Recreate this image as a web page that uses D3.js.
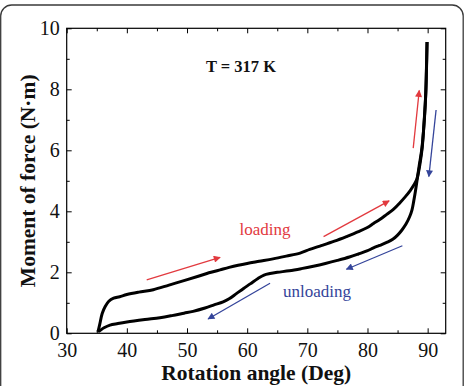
<!DOCTYPE html>
<html><head><meta charset="utf-8">
<script src="https://cdn.jsdelivr.net/npm/d3@7"></script>
<style>body{margin:0;background:#fff;}svg{display:block;}</style>
</head><body>
<svg id="c" width="465" height="386"></svg>
<script>
const loadX = [35.2,35.5,35.9,36.4,37.0,37.8,38.8,40.0,42.0,44.4,47.0,49.9,52.0,53.3,54.0,55.5,57.0,58.5,60.0,62.0,64.3,66.5,68.8,70.4,72.1,74.5,76.5,78.5,79.9,81.0,82.1,83.2,84.3,85.4,86.3,87.1,87.7,88.2,88.5,88.8,89.1,89.3,89.5,89.7,89.8,89.9];
const loadY = [0.05,0.3,0.65,0.88,1.05,1.15,1.2,1.27,1.35,1.43,1.58,1.75,1.88,1.96,2.0,2.08,2.16,2.23,2.29,2.36,2.44,2.53,2.63,2.75,2.86,3.02,3.17,3.33,3.46,3.6,3.74,3.9,4.06,4.28,4.48,4.68,4.86,5.05,5.3,5.65,6.1,6.6,7.2,7.9,8.7,9.55];
const unloadX = [89.9,89.8,89.6,89.3,89.0,88.6,88.3,88.0,87.7,87.4,87.0,86.4,85.7,85.0,84.2,83.2,82.0,81.0,79.9,78.5,77.0,75.0,73.0,71.0,69.0,67.0,65.0,63.8,62.8,61.8,60.5,59.4,58.2,57.0,56.0,54.5,53.0,51.0,49.5,47.5,45.5,43.0,40.0,38.5,37.2,36.2,35.6,35.2];
const unloadY = [9.55,8.6,7.5,6.6,6.0,5.5,5.1,4.7,4.35,4.05,3.82,3.58,3.38,3.22,3.08,2.98,2.88,2.8,2.7,2.6,2.5,2.39,2.29,2.2,2.12,2.05,2.0,1.96,1.91,1.8,1.62,1.47,1.3,1.13,1.03,0.93,0.83,0.72,0.66,0.58,0.51,0.45,0.37,0.32,0.27,0.18,0.1,0.05];
const xTicks = [30,40,50,60,70,80,90];
const xMinor = [35,45,55,65,75,85];
const yTicks = [0,2,4,6,8,10];
const yMinor = [1,3,5,7,9];
const loadArrows = [[43.3,1.75,55.5,2.49],[72.7,3.17,83.6,4.34],[87.6,6.07,88.6,7.96]];
const unloadArrows = [[91.4,7.32,90.2,5.14],[85.8,2.87,76.5,2.1],[63.8,1.64,53.5,0.47]];

const svg = d3.select("#c");
const L = 66.7, R = 445.7, T = 28.3, B = 333.3;
const x = d3.scaleLinear().domain([30,93]).range([L,R]);
const y = d3.scaleLinear().domain([0,10]).range([B,T]);
const serif = "'Liberation Serif','Times New Roman',serif";
const red = "#e23a3f", blue = "#34449a";

// outer rounded frame
svg.append("rect").attr("x",0.7).attr("y",5).attr("width",462.5).attr("height",420)
  .attr("rx",11).attr("fill","none").attr("stroke","#3a3a3a").attr("stroke-width",1.3);

const g = svg.append("g");
function axisG(axis, tr){ const a = g.append("g").attr("transform",tr).call(axis);
  a.select(".domain").remove(); a.selectAll("line").attr("stroke","#000").attr("stroke-width",1);
  return a; }
const xb = axisG(d3.axisBottom(x).tickValues(xTicks).tickSize(-5).tickPadding(9.5), `translate(0,${B})`);
xb.selectAll("text").attr("font-family",serif).attr("font-size",20).attr("fill","#111");
axisG(d3.axisBottom(x).tickValues(xMinor).tickSize(-3).tickFormat(""), `translate(0,${B})`);
axisG(d3.axisTop(x).tickValues(xTicks).tickSize(-5).tickFormat(""), `translate(0,${T})`);
axisG(d3.axisTop(x).tickValues(xMinor).tickSize(-3).tickFormat(""), `translate(0,${T})`);
const yl = axisG(d3.axisLeft(y).tickValues(yTicks).tickSize(-5).tickPadding(7), `translate(${L},0)`);
yl.selectAll("text").attr("font-family",serif).attr("font-size",20).attr("fill","#111");
axisG(d3.axisLeft(y).tickValues(yMinor).tickSize(-3).tickFormat(""), `translate(${L},0)`);
axisG(d3.axisRight(y).tickValues(yTicks).tickSize(-5).tickFormat(""), `translate(${R},0)`);
axisG(d3.axisRight(y).tickValues(yMinor).tickSize(-3).tickFormat(""), `translate(${R},0)`);
g.append("rect").attr("x",L).attr("y",T).attr("width",R-L).attr("height",B-T)
  .attr("fill","none").attr("stroke","#000").attr("stroke-width",1.2);

const line = d3.line().x(d=>x(d[0])).y(d=>y(d[1])).curve(d3.curveCatmullRom.alpha(0.5));
const loadPts = loadX.map((v,i)=>[v,loadY[i]]);
const unloadPts = unloadX.map((v,i)=>[v,unloadY[i]]);
g.append("path").attr("d",line(loadPts)).attr("fill","none").attr("stroke","#000").attr("stroke-width",3).attr("stroke-linejoin","round");
g.append("path").attr("d",line(unloadPts)).attr("fill","none").attr("stroke","#000").attr("stroke-width",3).attr("stroke-linejoin","round");

const defs = svg.append("defs");
function marker(id,col){ defs.append("marker").attr("id",id).attr("viewBox","0 0 10 10").attr("refX",9).attr("refY",5)
  .attr("markerWidth",9).attr("markerHeight",7).attr("markerUnits","userSpaceOnUse").attr("orient","auto")
  .append("path").attr("d","M0,0L10,5L0,10Z").attr("fill",col); }
marker("ar",red); marker("ab",blue);
function arrows(arr,col,id){ arr.forEach(a=>{ g.append("line").attr("x1",x(a[0])).attr("y1",y(a[1])).attr("x2",x(a[2])).attr("y2",y(a[3]))
  .attr("stroke",col).attr("stroke-width",1.3).attr("marker-end",`url(#${id})`); }); }
arrows(loadArrows,red,"ar"); arrows(unloadArrows,blue,"ab");

svg.append("text").attr("x",241).attr("y",71.5).attr("text-anchor","middle").attr("font-family",serif)
  .attr("font-weight","bold").attr("font-size",16.5).attr("fill","#111").text("T = 317 K");
svg.append("text").attr("x",265).attr("y",235).attr("text-anchor","middle").attr("font-family",serif)
  .attr("font-size",17).attr("fill",red).text("loading");
svg.append("text").attr("x",317).attr("y",296.5).attr("text-anchor","middle").attr("font-family",serif)
  .attr("font-size",17).attr("fill",blue).text("unloading");
svg.append("text").attr("x",(L+R)/2).attr("y",380).attr("text-anchor","middle").attr("font-family",serif)
  .attr("font-weight","bold").attr("font-size",21.5).attr("fill","#111").text("Rotation angle (Deg)");
svg.append("text").attr("transform",`translate(35,${(T+B)/2}) rotate(-90)`).attr("text-anchor","middle").attr("font-family",serif)
  .attr("font-weight","bold").attr("font-size",21.5).attr("fill","#111").text("Moment of force (N·m)");
</script>
</body></html>
